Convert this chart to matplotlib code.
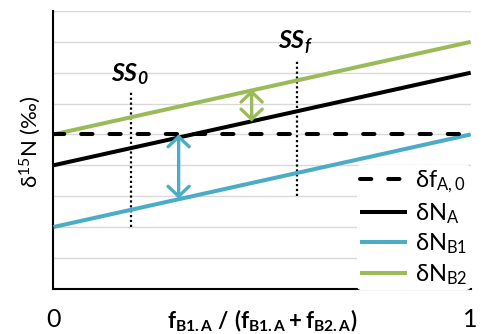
import matplotlib
matplotlib.use("Agg")
import matplotlib.pyplot as plt
from matplotlib.patches import FancyArrowPatch

# ---- data ----
x_ends = [0, 1]
dfA0 = [5, 5]
dNA = [4, 7]
dNB1 = [2, 5]
dNB2 = [5, 8]
ss_labels = ["0", "f"]
ss_x = [0.186, 0.584]
ss_top = [6.4, 7.4]
ss_bottom = [2.0, 3.0]
arrow_x = [0.30, 0.475]
arrow_from = [5.0, 6.45]
arrow_to = [2.92, 5.42]
xtick_vals = [0, 1]
xtick_labels = ["0", "1"]

BLUE = "#4BACC6"
GREEN = "#9BBB59"

plt.rcParams['font.family'] = ['Lato', 'DejaVu Sans']
plt.rcParams['mathtext.fontset'] = 'custom'
plt.rcParams['mathtext.rm'] = 'Lato'
plt.rcParams['mathtext.it'] = 'Lato:italic'
plt.rcParams['mathtext.bf'] = 'Lato:bold'
plt.rcParams['mathtext.bfit'] = 'Lato:bold:italic'

fig = plt.figure(figsize=(4.86, 3.34), dpi=100)
ax = fig.add_axes([0.110, 0.1356, 0.8585, 0.8314])

ax.set_xlim(0, 1)
ax.set_ylim(0, 9)
ax.set_yticks(range(0, 10))
ax.yaxis.grid(True, color="#D9D9D9", lw=1.0)
ax.set_axisbelow(True)
ax.tick_params(axis='y', length=0, labelleft=False)
ax.set_xticks(xtick_vals)
ax.set_xticklabels(xtick_labels, fontsize=18)
ax.tick_params(axis='x', length=0, pad=14)
for s in ['top', 'right']:
    ax.spines[s].set_visible(False)
for s in ['left', 'bottom']:
    ax.spines[s].set_linewidth(1.5)
    ax.spines[s].set_color('black')

lw = 2.9
l_dN_B2, = ax.plot(x_ends, dNB2, color=GREEN, lw=lw, solid_capstyle='butt', label='δN$_{\\mathrm{B2}}$', zorder=3)
l_dN_B1, = ax.plot(x_ends, dNB1, color=BLUE, lw=lw, solid_capstyle='butt', label='δN$_{\\mathrm{B1}}$', zorder=3)
l_dN_A, = ax.plot(x_ends, dNA, color='black', lw=lw, solid_capstyle='butt', label='δN$_{\\mathrm{A}}$', zorder=3)
l_df, = ax.plot(x_ends, dfA0, color='black', lw=lw, dashes=(2.8, 4.2), dash_capstyle='round',
                label='δf$_{\\mathrm{A,0}}$', zorder=4)

# SS dotted lines and labels
for lab, xv, yt, yb in zip(ss_labels, ss_x, ss_top, ss_bottom):
    ax.plot([xv, xv], [yb, yt], color='black', lw=1.6, ls=(0, (1, 1.2)), zorder=2)
    ax.text(xv - 0.004, yt + 0.15, r'$\mathbfit{SS_{%s}}$' % lab, fontsize=18,
            ha='center', va='bottom', zorder=5)

# double arrows
for xv, y0, y1, c in zip(arrow_x, arrow_from, arrow_to, [BLUE, GREEN]):
    arr = FancyArrowPatch((xv, y0), (xv, y1), arrowstyle='<->,head_length=0.36,head_width=0.38',
                          mutation_scale=20, color=c, lw=2.4, shrinkA=0, shrinkB=0, zorder=5,
                          capstyle='round', joinstyle='miter')
    ax.add_patch(arr)

# x label
ax.text(0.5, -0.142, r'$\mathbf{f_{B1.A}\ /\ (f_{B1.A}+f_{B2.A})}$', transform=ax.transAxes,
        ha='center', va='baseline', fontsize=16)

ax.set_ylabel('δ$^{\\mathrm{15}}$N (‰)', fontsize=16, va='center')
ax.yaxis.set_label_coords(-0.056, 0.53)

leg = ax.legend(handles=[l_df, l_dN_A, l_dN_B1, l_dN_B2], loc='lower right',
                bbox_to_anchor=(1.0, -0.005), frameon=True, fontsize=17,
                handlelength=2.0, handletextpad=0.3, labelspacing=0.25,
                borderpad=0.15, borderaxespad=0.0)
leg.get_frame().set_edgecolor('none')
leg.get_frame().set_facecolor('white')
leg.get_frame().set_alpha(1.0)

fig.savefig('out.png', dpi=100)
